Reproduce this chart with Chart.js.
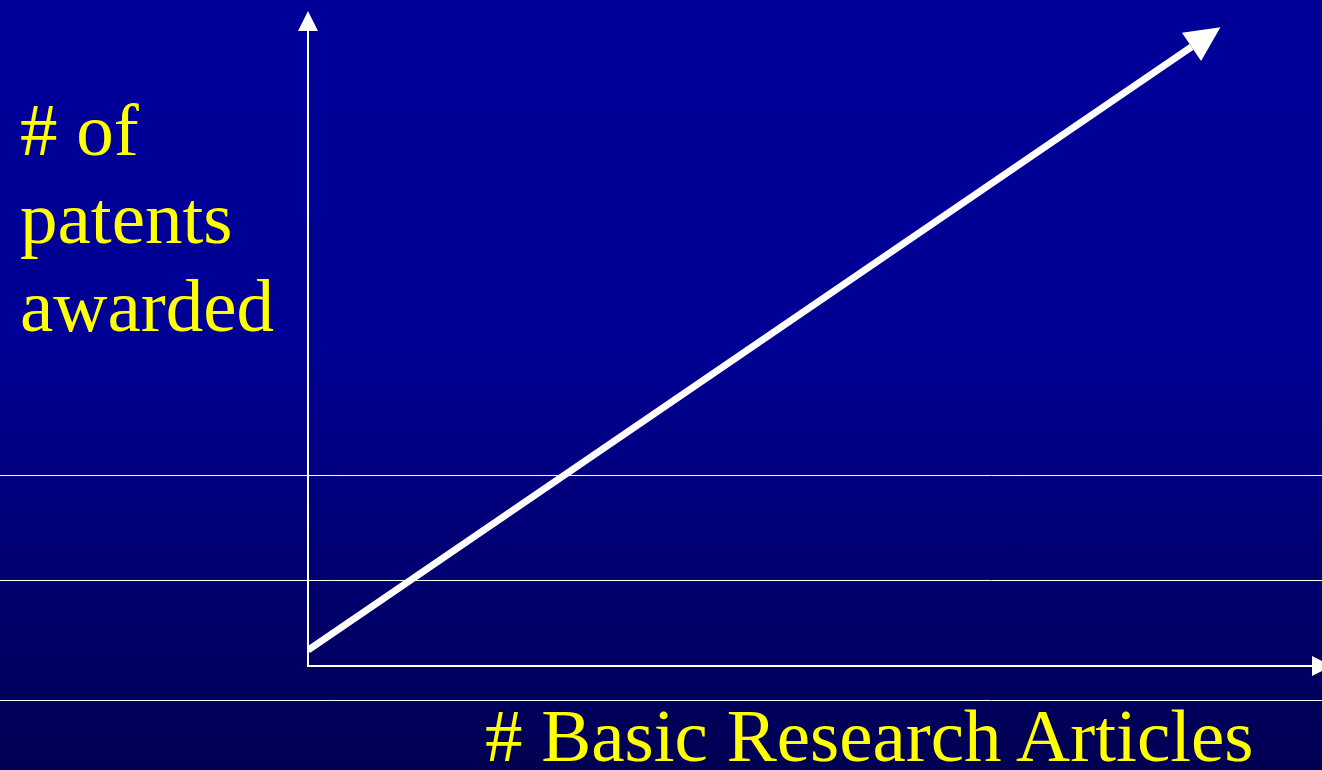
<!DOCTYPE html>
<html lang="en">
    <head>
        <meta charset="UTF-8" />
        <title># of patents awarded vs # Basic Research Articles</title>
        <script src="https://cdn.jsdelivr.net/npm/chart.js@4.4.1/dist/chart.umd.min.js"></script>
        <style>
            html, body { margin: 0; padding: 0; overflow: hidden; }
            body {
                width: 1322px; height: 770px; position: relative;
                background: linear-gradient(to bottom, #000099 0%, #000094 45%, #000052 100%);
                font-family: "Liberation Serif", "Times New Roman", serif;
                color: #ffff00;
            }
            #wrap { position: absolute; left: 0; top: 0; width: 1322px; height: 770px; }
            .lbl { position: absolute; font-size: 75px; white-space: nowrap; }
            #ylab { left: 20px; top: 86px; line-height: 88px; }
            #xlab { left: 485px; top: 699px; line-height: 74px; }
        </style>
    </head>
    <body>
        <div id="wrap"><canvas id="myChart"></canvas></div>
        <div class="lbl" id="ylab"># of<br>patents<br>awarded</div>
        <div class="lbl" id="xlab"># Basic Research Articles</div>
        <script>
            // schematic trend: more basic research articles -> more patents
            const articles = [0, 88];
            const patents = [2.5, 97.5];
            const xRange = [0, 100];
            const yRange = [0, 100];

            // white rules across the slide
            const slideRules = {
                id: 'slideRules',
                beforeDraw(chart) {
                    const ctx = chart.ctx;
                    ctx.save();
                    ctx.strokeStyle = '#ffffff';
                    ctx.lineWidth = 1;
                    [475.5, 580.5, 700.5].forEach(y => {
                        ctx.beginPath();
                        ctx.moveTo(0, y);
                        ctx.lineTo(chart.width, y);
                        ctx.stroke();
                    });
                    ctx.restore();
                }
            };

            function arrowHead(ctx, x, y, ang, len, half) {
                const bx = x - Math.cos(ang) * len, by = y - Math.sin(ang) * len;
                const px = -Math.sin(ang) * half, py = Math.cos(ang) * half;
                ctx.beginPath();
                ctx.moveTo(x, y);
                ctx.lineTo(bx + px, by + py);
                ctx.lineTo(bx - px, by - py);
                ctx.closePath();
                ctx.fill();
            }

            const arrows = {
                id: 'arrows',
                afterDraw(chart) {
                    const ctx = chart.ctx;
                    const a = chart.chartArea;
                    ctx.save();
                    ctx.fillStyle = '#ffffff';
                    // axis arrows
                    arrowHead(ctx, a.left, a.top - 20, -Math.PI / 2, 20, 10);
                    arrowHead(ctx, a.right + 20, a.bottom, 0, 20, 10);
                    // trend line arrow
                    const pts = chart.getDatasetMeta(0).data;
                    const p0 = pts[pts.length - 2], p1 = pts[pts.length - 1];
                    const ang = Math.atan2(p1.y - p0.y, p1.x - p0.x);
                    arrowHead(ctx, p1.x + Math.cos(ang) * 35, p1.y + Math.sin(ang) * 35, ang, 35, 17);
                    ctx.restore();
                }
            };

            const ctx = document.getElementById('myChart').getContext('2d');
            const myChart = new Chart(ctx, {
                type: 'line',
                data: {
                    datasets: [{
                        data: articles.map((v, i) => ({ x: v, y: patents[i] })),
                        borderColor: '#ffffff',
                        borderWidth: 7,
                        borderCapStyle: 'butt',
                        pointRadius: 0,
                        fill: false,
                        tension: 0
                    }]
                },
                options: {
                    responsive: true,
                    maintainAspectRatio: false,
                    animation: false,
                    layout: { padding: { left: 308, right: 10, top: 31, bottom: 104 } },
                    plugins: { legend: { display: false }, tooltip: { enabled: false } },
                    scales: {
                        x: {
                            type: 'linear', min: xRange[0], max: xRange[1],
                            ticks: { display: false },
                            grid: { drawOnChartArea: false, drawTicks: false },
                            border: { color: '#ffffff', width: 2 }
                        },
                        y: {
                            type: 'linear', min: yRange[0], max: yRange[1],
                            ticks: { display: false },
                            grid: { drawOnChartArea: false, drawTicks: false },
                            border: { color: '#ffffff', width: 2 }
                        }
                    }
                },
                plugins: [slideRules, arrows]
            });
        </script>
    </body>
</html>
